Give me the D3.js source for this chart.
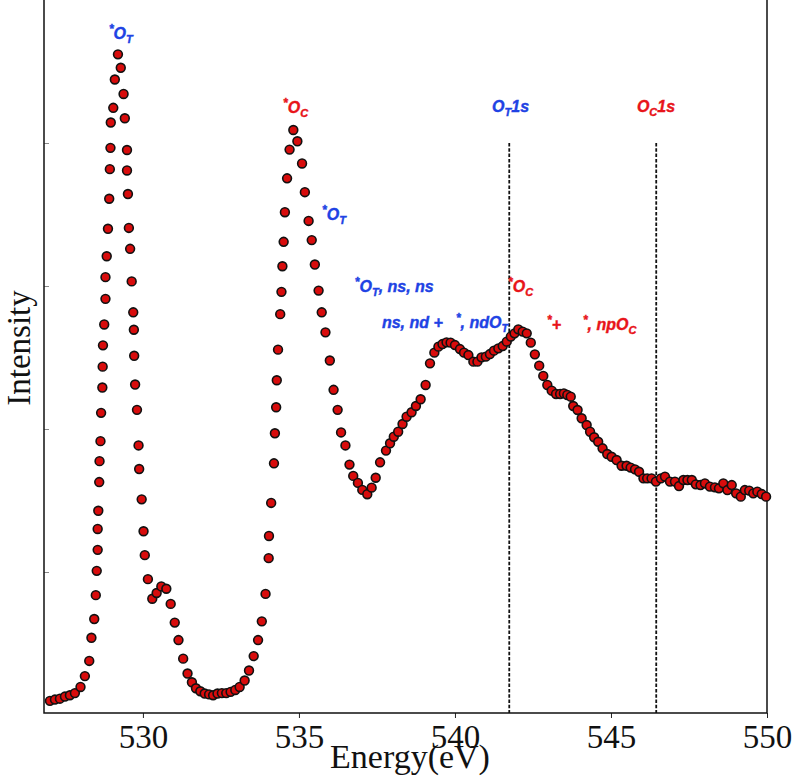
<!DOCTYPE html>
<html>
<head>
<meta charset="utf-8">
<script src="https://cdn.jsdelivr.net/npm/d3@7"></script>
<style>
  body { margin: 0; background: #fff; }
</style>
</head>
<body>
<div id="chart"></div>
<script>
// XAS spectrum, O K-edge
var energy = [
  527.02,527.18,527.34,527.50,527.66,527.82,528.00,528.14,528.28,528.35,
  528.44,528.49,528.52,528.55,528.55,528.57,528.60,528.61,528.64,528.66,
  528.70,528.71,528.72,528.76,528.80,528.80,528.84,528.88,528.92,528.94,
  528.96,528.97,529.05,529.10,529.20,529.29,529.38,529.42,529.49,529.49,
  529.52,529.55,529.59,529.64,529.69,529.71,529.72,529.75,529.81,529.86,
  529.88,529.96,530.02,530.06,530.16,530.30,530.44,530.59,530.75,530.89,
  531.02,531.14,531.29,531.43,531.57,531.70,531.84,531.98,532.12,532.25,
  532.39,532.53,532.67,532.81,532.96,533.10,533.26,533.40,533.55,533.69,
  533.81,533.93,534.03,534.04,534.11,534.20,534.23,534.27,534.29,534.33,
  534.40,534.44,534.47,534.51,534.55,534.62,534.70,534.82,534.95,535.10,
  535.19,535.31,535.41,535.51,535.63,535.73,535.85,535.99,536.11,536.24,
  536.35,536.49,536.62,536.74,536.89,537.03,537.19,537.33,537.46,537.60,
  537.79,537.92,538.04,538.18,538.32,538.45,538.61,538.75,538.90,539.06,
  539.20,539.34,539.47,539.60,539.73,539.86,540.00,540.16,540.29,540.43,
  540.59,540.72,540.85,540.99,541.12,541.25,541.39,541.53,541.66,541.79,
  541.91,542.03,542.17,542.30,542.43,542.56,542.70,542.83,542.96,543.10,
  543.24,543.37,543.49,543.60,543.71,543.79,543.93,544.06,544.22,544.33,
  544.46,544.59,544.73,544.88,545.02,545.18,545.34,545.50,545.63,545.77,
  545.90,546.04,546.16,546.30,546.44,546.60,546.73,546.89,547.05,547.18,
  547.32,547.45,547.59,547.72,547.87,548.01,548.17,548.33,548.46,548.60,
  548.73,548.87,549.01,549.16,549.29,549.43,549.56,549.69,549.83,549.97
];
var intensity = [
  0.099,0.108,0.114,0.129,0.138,0.153,0.196,0.272,0.378,0.540,
  0.671,0.838,1.008,1.155,1.301,1.428,1.629,1.775,1.915,2.113,
  2.290,2.436,2.585,2.731,2.910,3.062,3.208,3.400,3.610,3.817,
  3.966,4.143,4.246,4.444,4.620,4.526,4.343,4.173,3.951,3.808,
  3.643,3.406,3.260,3.032,2.816,2.694,2.512,2.311,2.134,1.885,
  1.720,1.508,1.285,1.118,0.950,0.813,0.853,0.899,0.883,0.777,
  0.646,0.524,0.394,0.290,0.229,0.187,0.166,0.150,0.144,0.138,
  0.150,0.153,0.153,0.162,0.175,0.196,0.241,0.311,0.412,0.524,
  0.655,0.847,1.097,1.252,1.483,1.760,1.970,2.152,2.341,2.555,
  2.803,2.959,3.138,3.309,3.516,3.753,3.954,4.091,4.012,3.857,
  3.656,3.455,3.321,3.150,2.968,2.816,2.676,2.479,2.274,2.134,
  1.976,1.885,1.751,1.672,1.623,1.574,1.544,1.590,1.659,1.767,
  1.849,1.900,1.946,1.981,2.035,2.086,2.117,2.161,2.208,2.308,
  2.459,2.534,2.576,2.594,2.606,2.604,2.587,2.559,2.534,2.517,
  2.471,2.471,2.501,2.506,2.524,2.548,2.564,2.580,2.611,2.646,
  2.669,2.697,2.681,2.669,2.604,2.522,2.443,2.371,2.308,2.268,
  2.245,2.245,2.249,2.238,2.226,2.161,2.133,2.075,2.028,1.981,
  1.942,1.911,1.865,1.825,1.806,1.783,1.743,1.743,1.730,1.718,
  1.701,1.655,1.655,1.655,1.632,1.655,1.667,1.632,1.632,1.601,
  1.643,1.643,1.643,1.613,1.608,1.620,1.597,1.592,1.585,1.620,
  1.573,1.608,1.550,1.527,1.573,1.569,1.550,1.562,1.545,1.527
];
var x_ticks = [530, 535, 540, 545, 550];
var y_ticks = [1, 2, 3, 4];
// ionisation thresholds (dashed lines)
var edges = [541.74, 546.45];
var edge_top = 4.0;

// annotation text: ^c = superscript char, _c = subscript char
var labels = [
  {text: '^*O_T', color: 'blue', e: 528.91, i: 4.727},
  {text: '^*O_C', color: 'red', e: 534.49, i: 4.210},
  {text: '^*O_T', color: 'blue', e: 535.74, i: 3.462},
  {text: '^*O_T, ns, ns', color: 'blue', e: 536.79, i: 2.958},
  {text: 'ns, nd +', color: 'blue', e: 537.66, i: 2.706},
  {text: '^*, ndO_T', color: 'blue', e: 540.03, i: 2.706},
  {text: '^*O_C', color: 'red', e: 541.70, i: 2.958},
  {text: '^*+', color: 'red', e: 542.95, i: 2.692},
  {text: '^*, npO_C', color: 'red', e: 544.10, i: 2.692},
  {text: 'O_T1s', color: 'blue', e: 541.19, i: 4.217},
  {text: 'O_C1s', color: 'red', e: 545.83, i: 4.217}
];
var colors = {blue: '#2042e4', red: '#e8141a'};

var width = 793, height = 783;
var left = 44, right = 767, bottom = 713;

var svg = d3.select('#chart')
  .append('svg')
  .attr('width', width)
  .attr('height', height);

var x = d3.scaleLinear().domain([526.83, 550]).range([left, right]);
var y = d3.scaleLinear().domain([0, 5]).range([715, 0]);

// dashed lines
svg.selectAll('line.edge')
  .data(edges)
  .enter()
  .append('line')
  .attr('class', 'edge')
  .attr('x1', function(d){ return x(d); })
  .attr('x2', function(d){ return x(d); })
  .attr('y1', y(edge_top))
  .attr('y2', bottom)
  .attr('stroke', '#111')
  .attr('stroke-width', 1.8)
  .attr('stroke-dasharray', '3.5,1.8');

// axes
var xAxis = svg.append('g')
  .attr('transform', 'translate(0,' + bottom + ')')
  .call(d3.axisBottom(x).tickValues(x_ticks).tickSize(5).tickPadding(7).tickFormat(d3.format('d')));
xAxis.select('.domain').remove();
xAxis.selectAll('line').attr('stroke', '#222');
xAxis.selectAll('text')
  .attr('font-family', '"Liberation Serif", "DejaVu Serif", serif')
  .attr('font-size', 33)
  .attr('fill', '#111');

var yAxis = svg.append('g')
  .attr('transform', 'translate(' + left + ',0)')
  .call(d3.axisLeft(y).tickValues(y_ticks).tickSize(-5).tickFormat(''));
yAxis.select('.domain').remove();
yAxis.selectAll('line').attr('stroke', '#888');

// spines
svg.append('path')
  .attr('d', 'M' + left + ',0V' + bottom + 'H' + right + 'V0')
  .attr('fill', 'none')
  .attr('stroke', '#111')
  .attr('stroke-width', 1.5);

// points
svg.selectAll('circle')
  .data(energy.map(function(d, i){ return [d, intensity[i]]; }))
  .enter()
  .append('circle')
  .attr('cx', function(d){ return x(d[0]); })
  .attr('cy', function(d){ return y(d[1]); })
  .attr('r', 4.4)
  .attr('fill', '#d80c0c')
  .attr('stroke', '#111')
  .attr('stroke-width', 1.6);

// annotations
function parts(s){
  var out = [];
  for (var k = 0; k < s.length; k++){
    var c = s[k];
    if ((c === '^' || c === '_') && k + 1 < s.length){
      out.push({t: s[k+1], shift: c === '^' ? -6 : 4});
      k++;
    } else {
      if (out.length && out[out.length-1].shift === 0) out[out.length-1].t += c;
      else out.push({t: c, shift: 0});
    }
  }
  return out;
}

labels.forEach(function(l){
  var t = svg.append('text')
    .attr('x', x(l.e))
    .attr('y', y(l.i))
    .attr('font-family', '"Liberation Sans", Arial, sans-serif')
    .attr('font-weight', 'bold')
    .attr('font-style', 'italic')
    .attr('font-size', 16)
    .attr('fill', colors[l.color])
    .attr('stroke', colors[l.color])
    .attr('stroke-width', 0.4);
  var prev = 0;
  parts(l.text).forEach(function(p){
    t.append('tspan')
      .attr('dy', p.shift - prev)
      .attr('font-size', p.shift === 0 ? 16 : (p.shift < 0 ? 12 : 11))
      .text(p.t);
    prev = p.shift;
  });
});

// axis labels
svg.append('text')
  .attr('x', 410)
  .attr('y', 768)
  .attr('text-anchor', 'middle')
  .attr('font-family', '"Liberation Serif", "DejaVu Serif", serif')
  .attr('font-size', 34)
  .attr('fill', '#111')
  .text('Energy(eV)');

svg.append('text')
  .attr('transform', 'translate(30,348) rotate(-90)')
  .attr('text-anchor', 'middle')
  .attr('font-family', '"Liberation Serif", "DejaVu Serif", serif')
  .attr('font-size', 33)
  .attr('fill', '#111')
  .text('Intensity');
</script>
</body>
</html>
